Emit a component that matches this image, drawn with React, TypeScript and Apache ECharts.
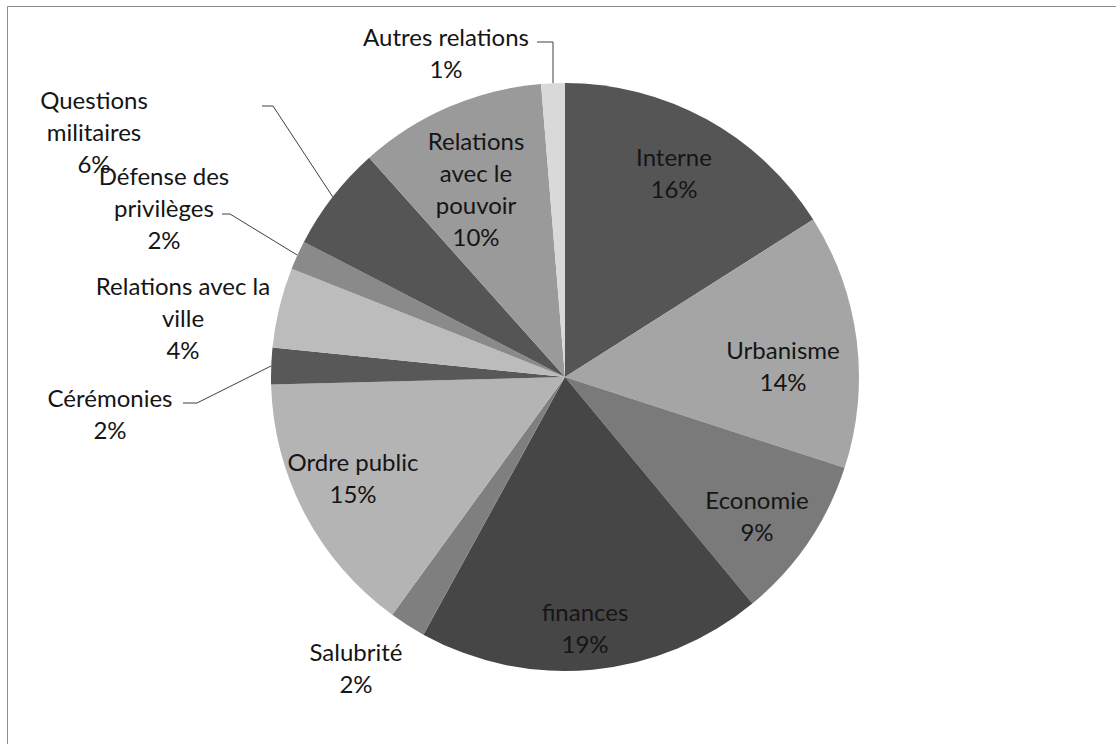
import React, { useEffect, useRef } from "react";
import * as echarts from "echarts";

const categories = [
  "Interne",
  "Urbanisme",
  "Economie",
  "finances",
  "Salubrité",
  "Ordre public",
  "Cérémonies",
  "Relations avec la ville",
  "Défense des privilèges",
  "Questions militaires",
  "Relations avec le pouvoir",
  "Autres relations",
];
const values = [16, 14, 9, 19, 2, 14.6, 2, 4.4, 1.6, 5.8, 10.3, 1.3];
const wrappedLabels = [
  "Interne",
  "Urbanisme",
  "Economie",
  "finances",
  "Salubrité",
  "Ordre public",
  "Cérémonies",
  "Relations avec la\nville",
  "Défense des\nprivilèges",
  "Questions\nmilitaires",
  "Relations\navec le\npouvoir",
  "Autres relations",
];
const sliceColors = [
  "#555555",
  "#a5a5a5",
  "#7a7a7a",
  "#464646",
  "#7f7f7f",
  "#b4b4b4",
  "#585858",
  "#bcbcbc",
  "#8a8a8a",
  "#555555",
  "#9a9a9a",
  "#d9d9d9",
];
const outsideLabels = [4, 6, 7, 8, 9, 11];
const withLeader = [6, 8, 9, 11];

// label block centres (layout only)
const labelCenters: number[][] = [
  [674, 172],
  [783, 365],
  [757, 515],
  [585, 627],
  [356, 667],
  [353, 477],
  [110, 413],
  [183, 317],
  [164, 207],
  [94, 131],
  [476, 188],
  [446, 52],
];
// leader line: [startX, y, elbowX] (elbowX null => vertical drop)
const leaders: Record<number, (number | null)[]> = {
  6: [183, 403, 197],
  8: [222, 214, 230],
  9: [262, 106, 273],
  11: [537, 42, null],
};

export default function App() {
  const ref = useRef<HTMLDivElement>(null);
  useEffect(() => {
    if (!ref.current) return;
    const chart = echarts.init(ref.current, null, { renderer: "svg" });
    const data = categories.map((name, i) => {
      const outside = outsideLabels.includes(i);
      return {
        name,
        value: values[i],
        itemStyle: { color: sliceColors[i] },
        label: { position: outside ? "outside" : "inside" },
        labelLine: { show: withLeader.includes(i) },
      };
    });
    chart.setOption({
      animation: false,
      backgroundColor: "#ffffff",
      graphic: [
        {
          type: "rect",
          shape: { x: 7.5, y: 6.5, width: 1300, height: 900 },
          style: { fill: "none", stroke: "#8c8c8c", lineWidth: 1 },
          silent: true,
        },
      ],
      series: [
        {
          type: "pie",
          silent: true,
          center: [565, 377],
          radius: [0, 294],
          startAngle: 90,
          clockwise: true,
          avoidLabelOverlap: false,
          itemStyle: { borderWidth: 0 },
          emphasis: { disabled: true },
          label: {
            show: true,
            fontFamily: "Lato",
            fontSize: 24,
            lineHeight: 32,
            color: "#151515",
            align: "center",
            formatter: (p: any) =>
              wrappedLabels[p.dataIndex] + "\n" + Math.round(p.percent) + "%",
          },
          labelLine: {
            show: false,
            smooth: false,
            lineStyle: { color: "#404040", width: 1 },
          },
          labelLayout: (p: any) => {
            const i = p.dataIndex;
            const c = labelCenters[i];
            const res: any = {
              x: c[0],
              y: c[1],
              align: "center",
              verticalAlign: "middle",
              hideOverlap: false,
            };
            const lead = leaders[i];
            if (lead && p.labelLinePoints && p.labelLinePoints[0]) {
              const a = p.labelLinePoints[0];
              const y = lead[1] as number;
              const elbow = lead[2] == null ? [a[0], y] : [lead[2] as number, y];
              res.labelLinePoints = [a, elbow, [lead[0] as number, y]];
            }
            return res;
          },
          data,
        },
      ],
    });
    return () => chart.dispose();
  }, []);
  return (
    <div
      style={{
        position: "absolute",
        left: 0,
        top: 0,
        width: 1116,
        height: 744,
        overflow: "hidden",
        background: "#fff",
      }}
    >
      <div ref={ref} style={{ width: 1116, height: 744 }} />
    </div>
  );
}
